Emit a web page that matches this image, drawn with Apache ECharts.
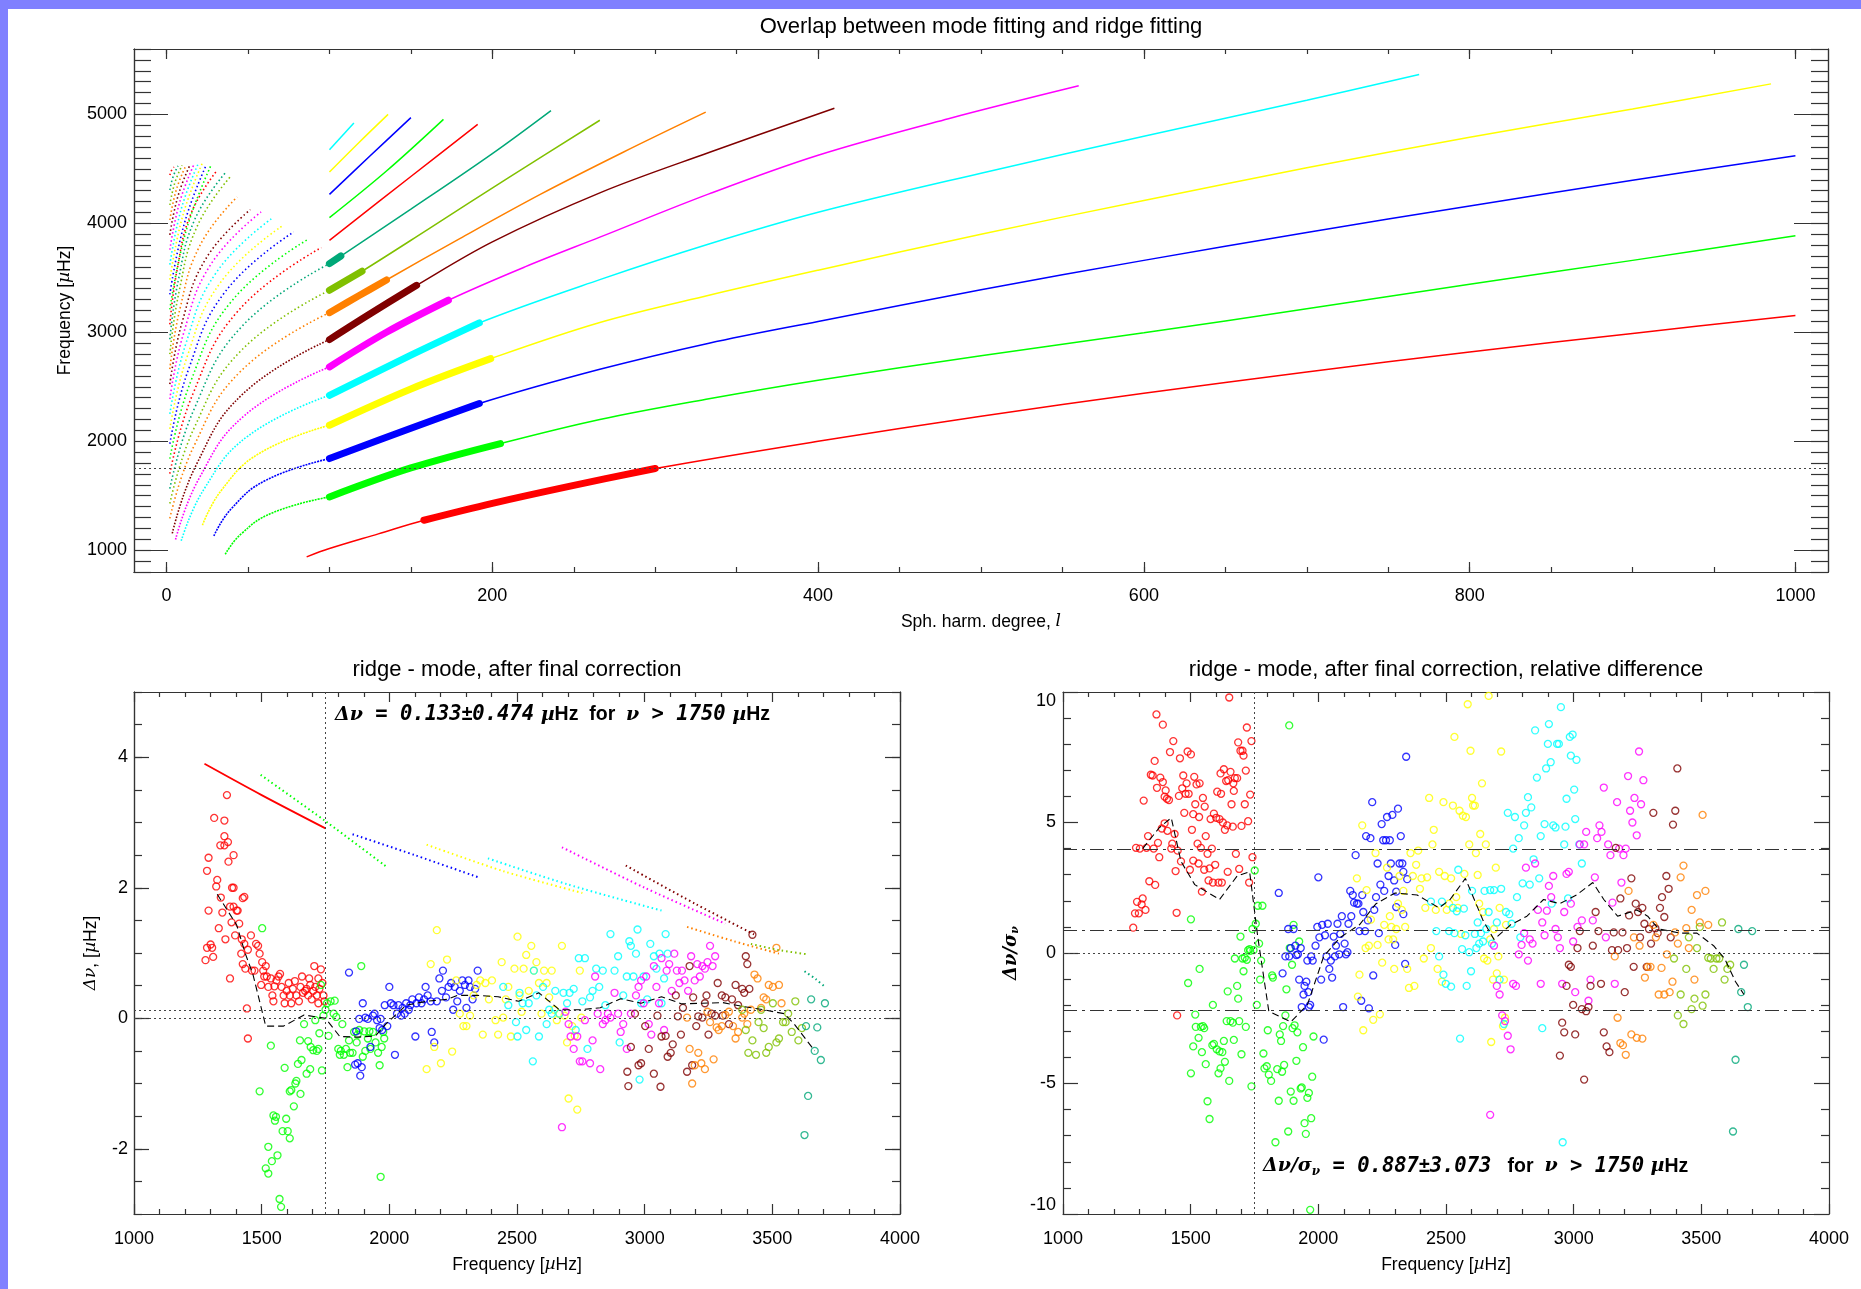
<!DOCTYPE html>
<html>
<head>
<meta charset="utf-8">
<title>Overlap between mode fitting and ridge fitting</title>
<script src="https://cdn.jsdelivr.net/npm/echarts@6/dist/echarts.min.js"></script>
<style>
  html, body { margin: 0; padding: 0; background: #fff; }
  #chart { width: 1861px; height: 1289px; }
</style>
</head>
<body>
<div id="chart"></div>
<script>
// ridge colours, n = 0 (f mode) .. cycling every 10
const ridgeColors = ['#ff0000', '#00ff00', '#0000ff', '#ffff00', '#00ffff', '#ff00ff', '#800000', '#ff8000', '#80c000', '#00a878']

// ---- top panel: ridges in (l, frequency) ----
// low degree part, index 0 -> n = 1
const ridgeLow = [
  [[36, 963], [45.6, 1147], [64.8, 1342], [100, 1489]],
  [[29, 1131], [39.7, 1380], [61, 1642], [100, 1841]],
  [[22, 1230], [33.7, 1551], [57.1, 1890], [100, 2147]],
  [[9, 1086], [22.7, 1554], [50, 2048], [100, 2422]],
  [[5.5, 1098], [19.7, 1652], [48, 2238], [100, 2682]],
  [[3.5, 1155], [18, 1777], [46.9, 2435], [100, 2933]],
  [[2, 1292], [16.7, 1953], [46.1, 2651], [100, 3180]],
  [[2, 1429], [16.7, 2114], [46.1, 2837], [100, 3385]],
  [[2, 1566], [16.7, 2288], [46.1, 3052], [100, 3630]],
  [[2, 1703], [16, 2429], [43.9, 3196], [95, 3777]],
  [[2, 1840], [14.7, 2544], [40, 3287], [86.5, 3850]],
  [[2, 1977], [13.4, 2657], [36.2, 3376], [78, 3920]],
  [[2, 2114], [12.4, 2766], [33, 3455], [71, 3976]],
  [[2, 2251], [11.5, 2880], [30.4, 3546], [65, 4049]],
  [[2, 2388], [10.4, 2989], [27.2, 3624], [58, 4104]],
  [[2, 2525], [9.4, 3085], [24.2, 3677], [51.4, 4125]],
  [[2, 2662], [8.2, 3215], [20.6, 3800], [43.3, 4242]],
  [[2, 2799], [7.6, 3368], [18.7, 3970], [39, 4425]],
  [[2, 2936], [7.1, 3470], [17.3, 4035], [36, 4462]],
  [[2, 3073], [6.4, 3568], [15, 4090], [31, 4486]],
  [[2, 3210], [12, 3932], [27, 4523]],
  [[2, 3347], [11, 4003], [24.5, 4540]],
  [[2, 3484], [10, 4073], [22, 4554]],
  [[2, 3621], [9, 4132], [19.5, 4550]],
  [[2, 3758], [8, 4192], [17, 4547]],
  [[2, 3895], [7, 4250], [14.5, 4540]],
  [[2, 4032], [6, 4309], [12, 4535]],
  [[2, 4169], [5, 4369], [9.5, 4532]],
  [[2, 4306], [4, 4428], [7, 4527]],
  [[2, 4443], [3, 4484], [4.5, 4517]]
]
// ridge fitting, index = n
const ridgeHigh = [
  [[86, 939], [100, 1015], [130, 1150], [158, 1275], [200, 1430], [250, 1595], [300, 1750], [400, 2000], [500, 2230], [600, 2440], [700, 2635], [800, 2820], [900, 2990], [1000, 3154]],
  [[100, 1489], [150, 1755], [205, 1979], [266, 2200], [333, 2390], [400, 2560], [500, 2785], [600, 2995], [700, 3215], [800, 3440], [900, 3660], [1000, 3885]],
  [[100, 1841], [150, 2120], [192, 2346], [266, 2660], [333, 2900], [400, 3100], [500, 3390], [600, 3660], [700, 3915], [800, 4160], [900, 4395], [1000, 4620]],
  [[100, 2147], [150, 2480], [199, 2758], [266, 3090], [333, 3340], [400, 3570], [500, 3900], [600, 4210], [700, 4510], [800, 4790], [900, 5050], [985, 5280]],
  [[100, 2422], [150, 2790], [192, 3086], [266, 3483], [333, 3810], [400, 4101], [500, 4460], [600, 4800], [700, 5130], [769, 5365]],
  [[100, 2682], [135, 3000], [173, 3294], [220, 3600], [266, 3873], [333, 4270], [400, 4625], [480, 4960], [560, 5262]],
  [[100, 2933], [125, 3170], [153.5, 3431], [200, 3830], [266, 4280], [333, 4650], [410, 5056]],
  [[100, 3180], [118, 3335], [135, 3480], [180, 3860], [230, 4270], [280, 4650], [331, 5020]],
  [[100, 3385], [120, 3560], [160, 3940], [210, 4420], [266, 4946]],
  [[100, 3630], [107, 3700], [150, 4130], [200, 4640], [236, 5035]],
  [[100, 3844], [150, 4430], [191, 4908]],
  [[100, 4052], [135, 4480], [170, 4954]],
  [[100, 4266], [125, 4620], [150, 4970]],
  [[100, 4471], [118, 4740], [136, 5000]],
  [[100, 4676], [115, 4920]]
]
// overlap with mode fitting, index = n
const ridgeThick = [
  [[158, 1275], [200, 1430], [250, 1595], [300, 1750]],
  [[100, 1489], [150, 1755], [205, 1979]],
  [[100, 1841], [150, 2120], [192, 2346]],
  [[100, 2147], [150, 2480], [199, 2758]],
  [[100, 2422], [150, 2790], [192, 3086]],
  [[100, 2682], [135, 3000], [173, 3294]],
  [[100, 2933], [125, 3170], [153.5, 3431]],
  [[100, 3180], [118, 3335], [135, 3480]],
  [[100, 3385], [120, 3560]],
  [[100, 3630], [107, 3700]]
]
const cutFrequency = 1750
const topTicksMajorX = [0, 200, 400, 600, 800, 1000]
const topTicksMinorX = [0, 50, 100, 150, 200, 250, 300, 350, 400, 450, 500, 550, 600, 650, 700, 750, 800, 850, 900, 950, 1000]
const topTicksMajorY = [1000, 2000, 3000, 4000, 5000]
const leftTicksMajorY = [-2, 0, 2, 4]

// ---- bottom left: ridge - mode (muHz) ----
const leftRed = [[1280, 0.89], [1286, 2.26], [1292, 2.46], [1292, 1.65], [1286, 1.08], [1300, 1.13], [1306, 1.08], [1314, 3.07], [1310, 0.94], [1322, 2.02], [1326, 2.12], [1332, 1.38], [1338, 2.65], [1340, 1.85], [1346, 1.62], [1354, 2.65], [1354, 2.79], [1354, 3.03], [1358, 1.21], [1364, 3.42], [1368, 2.70], [1370, 2.40], [1376, 1.71], [1376, 0.61], [1384, 2.00], [1390, 2.00], [1390, 2.50], [1382, 1.47], [1390, 1.71], [1402, 1.65], [1396, 1.27], [1406, 1.65], [1412, 1.45], [1420, 0.99], [1426, 1.84], [1432, 1.86], [1426, 0.83], [1436, 0.76], [1442, 0.15], [1446, -0.31], [1422, 1.21], [1432, 1.14], [1446, 1.05], [1458, 1.27], [1462, 0.73], [1472, 0.73], [1478, 1.14], [1486, 1.11], [1492, 0.99], [1502, 0.86], [1498, 0.51], [1506, 0.73], [1510, 0.64], [1516, 0.80], [1520, 0.64], [1526, 0.48], [1536, 0.61], [1542, 0.35], [1546, 0.26], [1550, 0.49], [1558, 0.58], [1566, 0.64], [1572, 0.68], [1578, 0.48], [1586, 0.35], [1590, 0.23], [1598, 0.42], [1606, 0.54], [1610, 0.35], [1616, 0.23], [1622, 0.45], [1630, 0.57], [1636, 0.35], [1646, 0.26], [1652, 0.48], [1658, 0.64], [1662, 0.39], [1670, 0.42], [1676, 0.45], [1682, 0.35], [1690, 0.51], [1696, 0.29], [1702, 0.42], [1706, 0.80], [1710, 0.48], [1716, 0.35], [1722, 0.23], [1726, 0.45], [1732, 0.75], [1738, 0.54], [1742, 0.35], [1746, 0.26], [1722, 0.61], [1686, 0.61]]
const leftGreen = [[1502, 1.38], [1492, -1.12], [1536, -0.42], [1546, -1.49], [1552, -1.57], [1556, -1.51], [1526, -1.97], [1516, -2.30], [1526, -2.38], [1540, -2.19], [1562, -2.10], [1570, -2.77], [1576, -2.89], [1582, -1.73], [1596, -1.54], [1602, -1.73], [1610, -1.84], [1590, -0.76], [1610, -1.12], [1616, -1.10], [1626, -1.35], [1632, -1.00], [1636, -0.96], [1642, -0.70], [1650, -0.34], [1656, -0.64], [1652, -1.16], [1666, -0.09], [1676, -0.85], [1682, -0.35], [1690, -0.78], [1692, -0.44], [1702, -0.49], [1710, -0.03], [1716, -0.50], [1722, -0.47], [1726, -0.23], [1732, 0.51], [1736, -0.80], [1742, 0.04], [1750, 0.13], [1756, 0.23], [1762, -0.27], [1770, 0.26], [1782, 0.07], [1786, 0.27], [1792, 0.02], [1800, -0.47], [1806, -0.56], [1810, -0.50], [1816, -0.09], [1822, -0.56], [1830, -0.47], [1836, -0.75], [1842, -0.34], [1846, -0.53], [1856, -0.53], [1862, -0.21], [1872, -0.37], [1876, -0.25], [1882, -0.18], [1890, 0.80], [1896, -0.59], [1902, -0.20], [1906, -0.50], [1916, -0.31], [1922, -0.20], [1926, -0.47], [1936, -0.21], [1946, -0.37], [1956, -0.53], [1962, -0.72], [1966, -2.43], [1970, -0.44], [1976, -0.21], [1980, -0.31]]
const leftBlue = [[1842, 0.70], [1866, -0.71], [1876, -0.69], [1886, -0.88], [1892, -0.75], [1870, -0.20], [1882, -0.01], [1896, 0.23], [1906, 0.01], [1916, -0.01], [1926, -0.44], [1936, 0.04], [1942, 0.07], [1952, -0.03], [1962, -0.15], [1966, -0.01], [1972, -0.18], [1982, 0.20], [1992, -0.12], [2000, 0.48], [2006, 0.23], [2016, 0.20], [2022, -0.56], [2030, 0.07], [2036, 0.20], [2046, 0.04], [2052, 0.16], [2060, 0.07], [2066, 0.23], [2076, 0.13], [2082, 0.20], [2090, 0.29], [2102, -0.28], [2106, 0.23], [2116, 0.32], [2126, 0.23], [2136, 0.29], [2142, 0.48], [2150, 0.35], [2162, 0.26], [2166, -0.21], [2176, -0.37], [2186, 0.26], [2196, 0.61], [2206, 0.42], [2210, 0.73], [2222, 0.32], [2232, 0.48], [2242, 0.54], [2250, 0.13], [2256, 0.48], [2266, 0.26], [2276, 0.42], [2286, 0.58], [2296, 0.51], [2302, 0.16], [2310, 0.58], [2316, 0.48], [2326, 0.29], [2336, 0.45], [2346, 0.73]]
const leftYellow = [[2162, 0.83], [2186, 1.35], [2146, -0.78], [2176, -0.44], [2202, -0.69], [2226, 0.90], [2246, -0.51], [2262, 0.58], [2276, 0.07], [2290, -0.12], [2302, -0.12], [2316, 0.04], [2330, 0.35], [2342, 0.51], [2356, 0.58], [2366, -0.25], [2376, 0.54], [2390, 0.29], [2402, 0.58], [2416, -0.03], [2426, -0.25], [2440, 0.86], [2446, 0.01], [2456, 0.29], [2466, 0.48], [2476, -0.28], [2490, 0.76], [2502, 1.25], [2510, 0.35], [2518, 0.10], [2526, 0.76], [2536, 0.97], [2546, 0.42], [2556, 1.11], [2566, 0.73], [2576, 0.86], [2586, 0.54], [2596, 0.07], [2606, 0.73], [2616, 0.54], [2626, 0.32], [2636, 0.73], [2646, 0.13], [2656, -0.03], [2666, 0.07], [2676, 1.11], [2686, 0.04], [2696, -0.37], [2702, -1.23], [2716, -0.12], [2726, -0.27], [2736, -1.40], [2746, 0.73], [2752, 0.01]]
const leftCyan = [[2446, 0.48], [2466, 0.20], [2496, -0.06], [2502, -0.28], [2510, 0.39], [2522, 0.23], [2536, -0.18], [2546, 0.23], [2562, -0.66], [2566, 0.73], [2576, 0.35], [2586, -0.28], [2602, 0.48], [2616, -0.09], [2626, 0.13], [2636, 0.07], [2650, 0.42], [2666, 0.07], [2682, 0.39], [2696, 0.23], [2706, 0.39], [2722, 0.45], [2730, -0.18], [2742, 0.92], [2756, 0.26], [2766, 0.92], [2776, -0.47], [2786, 0.32], [2796, 0.42], [2810, 0.76], [2822, 0.48], [2836, 0.73], [2846, 0.20], [2866, 1.29], [2882, 0.73], [2896, 0.95], [2902, -0.37], [2916, 0.35], [2930, 0.64], [2940, 1.18], [2946, 1.11], [2956, 0.64], [2966, 0.99], [2972, 1.36], [2980, -0.94], [2986, 0.23], [2996, 0.64], [3010, 0.29], [3022, 1.14], [3036, 0.95], [3046, 0.76], [3058, 0.99], [3066, 0.23], [3076, 0.61], [3082, 1.29], [3090, 0.99]]
const leftMagenta = [[2676, -1.67], [2690, 0.10], [2702, -0.09], [2710, -0.28], [2722, -0.47], [2736, -0.28], [2746, -0.66], [2756, -0.66], [2766, -0.03], [2786, -0.69], [2796, -0.34], [2806, 0.64], [2816, 0.07], [2826, -0.78], [2836, -0.09], [2846, -0.03], [2856, 0.07], [2866, 0.01], [2882, 0.39], [2896, 0.07], [2906, -0.21], [2916, -0.09], [2930, -0.47], [2946, 0.07], [2966, 0.35], [2976, 0.48], [2986, 0.58], [2996, 0.23], [3006, 0.64], [3016, -0.09], [3026, -0.25], [3036, 0.80], [3046, 0.48], [3056, 0.23], [3066, 0.92], [3076, -0.18], [3086, 0.73], [3096, 0.83], [3106, 0.42], [3116, 0.99], [3126, 0.73], [3136, 0.54], [3146, 0.73], [3156, 0.58], [3170, 0.42], [3182, 0.95], [3196, 0.58], [3206, 0.83], [3216, 0.64], [3226, 0.80], [3236, 0.76], [3246, 0.86], [3256, 1.11], [3266, 0.80], [3276, 0.95]]
const leftBrown = [[2936, -1.04], [2932, -0.82], [2946, -0.44], [2962, 0.07], [2976, -0.72], [2986, -0.69], [3002, -0.12], [3016, -0.47], [3036, -0.85], [3050, 0.04], [3062, -1.05], [3066, -0.28], [3082, -0.27], [3090, -0.59], [3102, -0.53], [3110, -0.40], [3122, 0.35], [3130, 0.03], [3142, -0.25], [3150, 0.16], [3166, -0.82], [3176, 0.80], [3186, -0.72], [3190, 0.32], [3202, -0.12], [3210, 0.03], [3226, 0.01], [3236, 0.23], [3242, 0.35], [3250, -0.25], [3262, 0.07], [3276, 0.04], [3286, 0.54], [3302, 0.35], [3306, 0.04], [3316, 0.32], [3330, -0.09], [3342, 0.29], [3356, 0.51], [3366, 0.20], [3382, 0.45], [3390, 0.39], [3396, 0.95], [3402, 0.83], [3410, 0.45], [3422, 1.28]]
const leftOrange = [[3166, 0.01], [3176, -0.47], [3186, -1.00], [3196, -0.72], [3210, -0.53], [3222, -0.69], [3236, -0.78], [3246, 0.10], [3256, -0.06], [3270, -0.63], [3282, -0.14], [3290, -0.18], [3302, -0.12], [3316, 0.05], [3330, 0.10], [3346, -0.12], [3356, -0.31], [3366, -0.21], [3382, 0.01], [3390, 0.07], [3402, -0.09], [3416, 0.13], [3430, 0.67], [3442, 0.61], [3456, 0.16], [3466, 0.32], [3476, 0.29], [3486, 0.51], [3502, 0.48], [3516, 1.08], [3526, 0.51], [3536, 0.23]]
const leftOlive = [[3382, 0.13], [3396, -0.18], [3406, -0.53], [3422, -0.34], [3436, -0.56], [3446, -0.06], [3456, 0.13], [3466, -0.15], [3476, -0.53], [3486, -0.44], [3502, 0.23], [3516, -0.37], [3526, -0.31], [3542, -0.06], [3552, -0.06], [3562, 0.07], [3576, -0.21], [3590, 0.26], [3602, -0.34], [3616, -0.15]]
const leftTeal = [[3626, -1.79], [3632, -0.12], [3640, -1.19], [3652, 0.29], [3666, -0.50], [3676, -0.14], [3690, -0.64], [3706, 0.23]]
// mode fitting values shown as small dots
const leftBands = [
  [[1276, 3.90], [1500, 3.42], [1750, 2.91]],
  [[1496, 3.73], [1750, 3.02], [1986, 2.33]],
  [[1856, 2.82], [2100, 2.50], [2356, 2.15]],
  [[2146, 2.66], [2450, 2.25], [2756, 1.92]],
  [[2386, 2.45], [2700, 2.05], [3066, 1.65]],
  [[2676, 2.62], [3000, 2.00], [3316, 1.45]],
  [[2926, 2.34], [3200, 1.75], [3436, 1.27]],
  [[3166, 1.40], [3350, 1.18], [3526, 0.99]],
  [[3416, 1.14], [3520, 1.05], [3636, 0.98]],
  [[3626, 0.72], [3670, 0.60], [3706, 0.48]]
]
const leftMean = [[1326, 1.90], [1402, 1.43], [1436, 0.99], [1466, 0.67], [1516, -0.12], [1586, -0.12], [1666, 0.05], [1750, 0.0], [1806, -0.28], [1876, -0.29], [1946, -0.27], [1986, -0.09], [2066, 0.20], [2146, 0.26], [2226, 0.29], [2266, 0.35], [2346, 0.35], [2426, 0.33], [2506, 0.26], [2586, 0.39], [2666, 0.13], [2746, 0.13], [2826, 0.16], [2906, 0.30], [2986, 0.23], [3066, 0.33], [3146, 0.22], [3226, 0.23], [3306, 0.24], [3386, 0.18], [3466, 0.13], [3546, 0.07], [3586, -0.09], [3666, -0.50]]
const leftStats = { mean: 0.133, sigma: 0.474 }

// ---- bottom right: relative difference ----
const rightRed = [[1275, 0.97], [1282, 1.52], [1286, 4.03], [1290, 1.96], [1297, 1.52], [1301, 4.0], [1308, 1.86], [1312, 2.09], [1316, 5.84], [1323, 1.65], [1327, 4.03], [1333, 4.48], [1338, 2.75], [1344, 6.83], [1351, 6.80], [1355, 4.0], [1361, 2.61], [1359, 7.36], [1366, 9.14], [1368, 6.33], [1372, 4.22], [1381, 6.72], [1387, 4.77], [1391, 6.55], [1391, 8.75], [1398, 5.99], [1402, 6.23], [1407, 5.91], [1409, 4.68], [1415, 5.86], [1419, 7.70], [1424, 4.0], [1428, 4.19], [1432, 8.12], [1437, 4.56], [1441, 3.14], [1445, 1.54], [1449, 3.92], [1454, 6.02], [1458, 7.46], [1462, 3.51], [1467, 6.31], [1471, 6.80], [1475, 5.37], [1480, 6.10], [1484, 6.50], [1488, 7.72], [1492, 6.10], [1497, 3.19], [1501, 7.61], [1505, 4.72], [1510, 3.54], [1514, 6.75], [1518, 5.70], [1523, 6.46], [1527, 4.19], [1531, 3.43], [1535, 6.50], [1540, 4.03], [1544, 2.35], [1548, 5.94], [1555, 5.61], [1559, 4.48], [1566, 3.80], [1570, 2.78], [1574, 3.24], [1578, 5.13], [1583, 4.00], [1587, 2.70], [1591, 5.34], [1596, 3.38], [1600, 5.18], [1604, 6.18], [1609, 2.70], [1613, 5.13], [1617, 6.88], [1622, 2.70], [1626, 5.00], [1630, 7.04], [1634, 4.72], [1639, 6.59], [1643, 4.89], [1647, 6.62], [1651, 9.79], [1656, 6.94], [1660, 5.70], [1665, 4.84], [1669, 6.21], [1673, 6.70], [1677, 3.80], [1682, 6.70], [1686, 8.07], [1690, 3.22], [1695, 7.75], [1699, 4.87], [1703, 7.75], [1707, 7.56], [1712, 5.70], [1716, 6.99], [1720, 8.64], [1725, 5.05], [1729, 2.70], [1733, 6.07], [1738, 8.12], [1742, 3.67], [1619, 6.10], [1645, 3.11], [1667, 6.50], [1553, 3.19], [1398, 4.97], [1377, 3.67], [1510, 5.32], [1533, 5.21], [1447, -2.39]]
const rightGreen = [[1501, 1.29], [1490, -1.15], [1518, -2.36], [1520, -2.83], [1535, -0.61], [1531, -3.25], [1540, -2.83], [1548, -2.80], [1553, -2.88], [1544, -3.80], [1510, -3.58], [1501, -4.61], [1559, -4.26], [1566, -5.68], [1574, -6.36], [1585, -3.53], [1591, -3.48], [1602, -3.69], [1609, -4.61], [1613, -3.77], [1617, -4.42], [1624, -3.80], [1630, -3.37], [1587, -1.99], [1634, -4.17], [1641, -2.61], [1645, -1.47], [1651, -4.90], [1656, -2.61], [1665, -2.67], [1669, -3.33], [1673, -0.21], [1682, -1.26], [1686, -1.75], [1690, -2.61], [1695, 0.63], [1699, -3.88], [1703, -0.21], [1707, -0.70], [1712, -0.18], [1716, -2.83], [1720, -0.26], [1725, 0.11], [1731, 0.15], [1733, 0.08], [1738, -5.11], [1742, 0.92], [1746, 0.11], [1751, 3.16], [1755, 1.12], [1759, -1.99], [1763, 1.81], [1768, 0.36], [1772, -1.02], [1776, -0.29], [1781, 1.81], [1785, -3.85], [1789, -4.42], [1798, -4.34], [1802, -2.96], [1806, -4.66], [1815, -4.90], [1819, -0.86], [1822, -0.94], [1832, -7.25], [1839, -4.45], [1845, -5.66], [1849, -3.12], [1854, -3.37], [1858, -4.55], [1862, -2.80], [1866, -4.29], [1871, -2.39], [1875, -1.39], [1882, -6.84], [1886, 8.72], [1888, 0.19], [1892, -5.31], [1899, -2.88], [1903, -5.66], [1907, -2.77], [1914, -4.13], [1918, -3.04], [1925, 0.44], [1931, -5.19], [1935, -5.15], [1940, -3.61], [1946, -6.52], [1951, -6.93], [1957, -5.55], [1963, -5.36], [1968, -9.84], [1972, -6.33], [1976, -4.74], [1981, -3.20], [1897, -0.45], [1903, 1.08]]
const rightBlue = [[1845, 2.30], [1860, -0.78], [1871, -0.13], [1882, 0.92], [1886, -0.13], [1892, 0.19], [1903, 0.92], [1910, 0.28], [1914, -0.08], [1920, -0.05], [1925, -1.02], [1931, 0.19], [1935, -2.07], [1942, -1.59], [1946, -1.26], [1953, -1.10], [1957, -0.29], [1961, -1.50], [1963, -2.07], [1968, -1.99], [1972, -0.13], [1978, -0.29], [1989, 0.28], [1996, 1.00], [2000, 2.90], [2004, 0.60], [2011, -1.02], [2015, 1.08], [2021, -3.32], [2026, 0.68], [2032, -0.13], [2037, 1.12], [2043, -0.61], [2049, -0.29], [2054, -0.94], [2060, 0.63], [2065, -0.13], [2069, 0.28], [2075, 1.12], [2082, -0.05], [2086, 0.73], [2092, 1.41], [2097, -2.07], [2103, 0.36], [2108, -0.05], [2114, 0.03], [2118, 1.12], [2125, 2.38], [2129, 1.41], [2135, 2.22], [2140, 1.93], [2146, 3.75], [2151, 1.89], [2157, 1.89], [2161, 0.84], [2168, -1.83], [2172, 2.22], [2176, 1.57], [2183, 0.84], [2187, 4.48], [2194, 1.25], [2198, -2.12], [2204, 4.40], [2211, 5.78], [2215, -0.86], [2219, 1.65], [2226, 2.14], [2232, 3.43], [2237, 0.76], [2243, 2.62], [2248, 4.94], [2254, 4.32], [2258, 2.38], [2265, 4.32], [2269, 5.21], [2275, 2.95], [2280, 4.32], [2284, 3.43], [2290, 5.29], [2297, 2.78], [2301, 0.31], [2305, 1.76], [2312, 5.53], [2318, 3.43], [2323, 4.48], [2329, 3.43], [2333, 3.11], [2340, -0.42], [2344, 7.52], [2348, 2.83], [2333, 1.49], [2305, 2.35]]
const rightYellow = [[2151, 2.86], [2155, -1.67], [2161, -0.83], [2172, 4.89], [2176, -2.96], [2185, 0.19], [2189, 2.41], [2198, 0.28], [2206, 1.28], [2215, -2.56], [2224, 3.83], [2232, 0.31], [2241, -2.35], [2250, -0.37], [2258, 1.08], [2269, 3.27], [2275, 0.52], [2280, 1.41], [2286, 1.00], [2293, 0.52], [2297, -0.61], [2305, 0.92], [2312, 1.89], [2318, 2.95], [2327, 1.65], [2333, 2.38], [2340, 1.00], [2348, -0.61], [2355, -1.34], [2361, 3.83], [2370, 2.95], [2376, -1.26], [2383, 3.38], [2391, 3.92], [2398, 2.46], [2404, 2.86], [2413, -0.21], [2419, 1.73], [2426, 2.90], [2434, 5.94], [2441, 0.19], [2447, 4.16], [2452, 4.72], [2460, 1.65], [2467, -0.61], [2473, 3.11], [2484, -1.10], [2490, 5.78], [2495, 2.95], [2503, 1.65], [2512, 1.89], [2520, 2.86], [2527, 5.65], [2533, 8.28], [2540, 2.14], [2546, 1.73], [2553, 5.45], [2559, 0.73], [2566, 5.26], [2572, 3.03], [2578, 5.21], [2585, 9.53], [2591, 4.16], [2596, 7.75], [2602, 5.94], [2606, 5.65], [2613, 5.65], [2617, 3.83], [2624, 2.99], [2630, 1.89], [2634, 4.56], [2641, 6.50], [2645, 1.57], [2649, -0.21], [2656, 4.16], [2662, -0.29], [2667, 9.85], [2673, 0.52], [2677, -3.41], [2684, -1.02], [2688, 0.92], [2695, 3.27], [2699, -0.78], [2705, -0.13], [2710, 1.73], [2716, 7.72], [2723, -2.80], [2727, -1.02], [2731, -2.48], [2735, 1.08]]
const rightCyan = [[2441, 1.97], [2462, 0.84], [2473, -0.13], [2484, 1.97], [2490, -0.83], [2499, -1.18], [2512, 0.84], [2520, -1.29], [2527, 1.73], [2533, 0.76], [2542, 1.60], [2548, 3.19], [2555, -3.28], [2563, 0.15], [2570, 1.70], [2576, 0.68], [2581, -1.26], [2591, 0.03], [2598, -0.70], [2602, 2.38], [2613, 0.73], [2619, 0.19], [2624, 1.17], [2630, 0.36], [2637, 0.76], [2645, 0.44], [2651, 2.38], [2658, 0.92], [2667, 1.57], [2673, 2.41], [2680, 0.36], [2688, 2.41], [2699, 1.17], [2710, -1.02], [2716, 2.46], [2727, -2.72], [2735, 1.57], [2742, 5.37], [2748, 1.49], [2757, 1.12], [2763, 4.00], [2770, 5.21], [2778, 2.14], [2785, 4.40], [2791, 0.60], [2800, 2.67], [2806, 4.89], [2813, 5.37], [2821, 5.97], [2828, 2.62], [2834, 5.58], [2843, 3.59], [2849, 8.53], [2856, 6.72], [2865, 2.86], [2871, 4.48], [2877, -2.88], [2886, 4.94], [2892, 7.07], [2899, 8.01], [2903, 8.77], [2910, 7.31], [2914, 1.89], [2920, 4.89], [2929, 4.81], [2935, 8.01], [2942, 8.01], [2950, 9.42], [2957, -7.25], [2963, 4.16], [2968, 4.84], [2972, 5.91], [2978, 2.09], [2985, 8.28], [2989, 7.56], [2996, 8.37], [3002, 6.26], [3006, 5.13], [3011, 7.40], [3022, 4.16], [3032, 3.43]]
const rightMagenta = [[2673, -6.20], [2688, 0.28], [2699, -1.26], [2710, -1.59], [2720, -2.39], [2731, -2.61], [2742, -3.17], [2753, -3.69], [2763, -1.18], [2774, -1.26], [2785, -0.05], [2796, 0.31], [2806, 0.76], [2813, 3.27], [2821, -0.29], [2828, 0.52], [2839, 0.36], [2849, 3.43], [2860, 1.65], [2871, -1.18], [2877, 1.17], [2886, 0.68], [2895, 1.62], [2903, 2.57], [2912, 2.14], [2920, 2.95], [2929, 0.92], [2938, 0.60], [2946, 0.19], [2955, -1.18], [2963, 1.57], [2972, 3.03], [2981, 3.11], [2989, 1.89], [2998, 0.44], [3006, -1.50], [3015, 1.00], [3024, 4.16], [3032, 1.25], [3041, 4.16], [3049, 4.64], [3058, -1.83], [3066, -1.02], [3075, 1.25], [3083, 2.90], [3092, 4.40], [3101, 4.89], [3109, 4.64], [3118, 6.34], [3126, 0.60], [3135, 4.16], [3144, 3.75], [3152, 1.93], [3161, -1.18], [3170, 5.78], [3178, 4.00], [3187, 2.70], [3195, 3.75], [3204, 4.00], [3213, 6.78], [3221, 5.45], [3230, 5.00], [3238, 5.94], [3247, 4.51], [3256, 7.72], [3264, 5.70], [3273, 6.62]]
const rightBrown = [[2946, -3.93], [2955, -2.67], [2963, -3.04], [2972, -1.26], [2981, -0.45], [2989, -0.53], [2998, -1.99], [3006, -3.12], [3015, 0.19], [3024, 0.84], [3032, -2.15], [3041, -4.85], [3049, -2.23], [3058, -2.07], [3066, -1.26], [3075, 0.28], [3086, 1.57], [3097, 0.84], [3107, -1.18], [3118, -3.04], [3129, -3.58], [3140, -3.80], [3150, 0.11], [3157, 0.79], [3165, 4.03], [3174, 0.11], [3183, 2.09], [3191, 0.79], [3200, -1.50], [3209, 0.19], [3217, 1.44], [3226, 2.86], [3235, -0.53], [3243, 1.89], [3252, 1.57], [3260, 0.60], [3269, 1.73], [3277, 1.12], [3286, -0.53], [3295, 0.92], [3303, 0.36], [3312, 5.37], [3320, 0.95], [3329, 0.76], [3338, 1.73], [3346, 2.14], [3355, 1.38], [3363, 2.95], [3372, 2.46], [3380, 0.60], [3389, 4.92], [3398, 5.45], [3406, 7.07]]
const rightOrange = [[3161, -0.13], [3172, -2.48], [3183, -3.45], [3193, -3.53], [3204, -3.90], [3215, 2.38], [3226, -3.12], [3236, 0.60], [3247, -3.25], [3258, 0.28], [3269, -3.28], [3279, -0.94], [3290, -0.53], [3301, -0.53], [3312, 1.08], [3322, 0.60], [3333, -1.59], [3344, -0.57], [3355, -1.59], [3365, -0.05], [3376, -1.50], [3387, -1.10], [3397, 0.79], [3408, 0.36], [3419, 2.90], [3430, 3.35], [3441, 0.95], [3451, 0.19], [3462, 1.65], [3473, -1.02], [3483, 2.22], [3494, 1.17], [3505, 5.29], [3516, 2.38], [3527, 1.08]]
const rightOlive = [[3393, -0.21], [3408, -2.39], [3419, -1.59], [3430, -2.72], [3441, -0.61], [3451, 0.60], [3462, -2.15], [3473, -1.75], [3483, 0.19], [3494, 1.00], [3505, -2.02], [3516, -1.59], [3527, -0.18], [3537, -0.21], [3548, -0.61], [3559, -0.21], [3570, -0.21], [3581, 1.17], [3591, -1.02], [3602, -0.61], [3613, -0.45]]
const rightTeal = [[3624, -6.84], [3634, -4.09], [3645, 0.92], [3656, -1.50], [3667, -0.45], [3682, -2.07], [3699, 0.84]]
const rightMean = [[1312, 4.0], [1377, 4.8], [1424, 5.18], [1462, 3.51], [1516, 2.62], [1613, 2.05], [1682, 2.95], [1731, 3.11], [1763, 0.60], [1806, -2.23], [1892, -2.64], [1957, -1.99], [2021, -0.13], [2086, 0.60], [2161, 1.08], [2226, 1.89], [2301, 2.30], [2387, 2.22], [2473, 1.73], [2516, 2.05], [2576, 2.86], [2645, 1.25], [2688, 0.52], [2753, 1.08], [2817, 1.41], [2882, 2.05], [2946, 1.89], [3011, 2.22], [3075, 2.70], [3118, 2.05], [3172, 1.41], [3247, 1.65], [3290, 1.41], [3333, 0.92], [3419, 0.76], [3483, 0.76], [3548, 0.28], [3591, -0.21], [3634, -1.10], [3667, -1.59]]
const rightStats = { mean: 0.887, sigma: 3.073 }

const leftSets = [leftRed, leftGreen, leftBlue, leftYellow, leftCyan, leftMagenta, leftBrown, leftOrange, leftOlive, leftTeal]
const rightSets = [rightRed, rightGreen, rightBlue, rightYellow, rightCyan, rightMagenta, rightBrown, rightOrange, rightOlive, rightTeal]

const FONT = 'Liberation Sans, Arial, Helvetica, sans-serif'
const AXIS_COLOR = '#333'
const chart = echarts.init(document.getElementById('chart'))

function frame (o) {
  const base = {
    type: 'value',
    axisLine: { show: true, onZero: false, lineStyle: { color: AXIS_COLOR, width: 1.2 } },
    axisTick: { show: false },
    axisLabel: { show: false },
    splitLine: { show: false }
  }
  return Object.assign(base, o)
}
function ticks (len, extra) {
  return Object.assign({ show: true, inside: true, length: len, lineStyle: { color: AXIS_COLOR, width: 1.2 } }, extra || {})
}
const plain = v => String(v)
const tickLabel = { show: true, color: '#000', fontFamily: FONT, fontSize: 18, formatter: plain }
const nameStyle = {
  color: '#000', fontFamily: FONT, fontSize: 17.5,
  rich: {
    i: { fontFamily: 'DejaVu Serif', fontStyle: 'italic', fontSize: 17, color: '#000' },
    bi: { fontFamily: 'DejaVu Serif', fontStyle: 'italic', fontWeight: 'bold', fontSize: 18, color: '#000' },
    sub: { fontFamily: 'DejaVu Serif', fontStyle: 'italic', fontWeight: 'bold', fontSize: 11, color: '#000', padding: [8, 0, 0, 0] },
    n: { fontFamily: FONT, fontSize: 17.5, color: '#000' }
  }
}
const minor = (len) => ({ show: true, splitNumber: 5, length: len, lineStyle: { color: AXIS_COLOR, width: 1.2 } })

const xAxis = [
  // top panel
  frame({ gridIndex: 0, min: -20, max: 1020, position: 'bottom',
    axisTick: ticks(10, { customValues: topTicksMajorX }),
    axisLabel: Object.assign({}, tickLabel, { customValues: topTicksMajorX, margin: 15 }),
    name: '{n|Sph. harm. degree, }{i|l}', nameLocation: 'middle', nameGap: 41, nameTextStyle: nameStyle }),
  frame({ gridIndex: 0, min: -20, max: 1020, position: 'bottom', axisTick: ticks(5, { customValues: topTicksMinorX }) }),
  frame({ gridIndex: 0, min: -20, max: 1020, position: 'top', axisTick: ticks(10, { customValues: topTicksMajorX }) }),
  frame({ gridIndex: 0, min: -20, max: 1020, position: 'top', axisTick: ticks(5, { customValues: topTicksMinorX }) }),
  // bottom left
  frame({ gridIndex: 1, min: 1000, max: 4000, interval: 500, position: 'bottom',
    axisTick: ticks(10), minorTick: minor(5),
    axisLabel: Object.assign({}, tickLabel, { margin: 16 }),
    name: '{n|Frequency [}{i|µ}{n|Hz]}', nameLocation: 'middle', nameGap: 42, nameTextStyle: nameStyle }),
  frame({ gridIndex: 1, min: 1000, max: 4000, interval: 500, position: 'top', axisTick: ticks(10), minorTick: minor(5) }),
  // bottom right
  frame({ gridIndex: 2, min: 1000, max: 4000, interval: 500, position: 'bottom',
    axisTick: ticks(10), minorTick: minor(5),
    axisLabel: Object.assign({}, tickLabel, { margin: 16 }),
    name: '{n|Frequency [}{i|µ}{n|Hz]}', nameLocation: 'middle', nameGap: 42, nameTextStyle: nameStyle }),
  frame({ gridIndex: 2, min: 1000, max: 4000, interval: 500, position: 'top', axisTick: ticks(10), minorTick: minor(5) })
]

const yAxis = [
  // top panel
  frame({ gridIndex: 0, min: 800, max: 5600, position: 'left',
    axisTick: ticks(34, { customValues: topTicksMajorY }),
    axisLabel: Object.assign({}, tickLabel, { customValues: topTicksMajorY, margin: 7 }),
    name: '{n|Frequency [}{i|µ}{n|Hz]}', nameLocation: 'middle', nameGap: 60, nameRotate: 90, nameTextStyle: nameStyle }),
  frame({ gridIndex: 0, min: 800, max: 5600, interval: 100, position: 'left', axisTick: ticks(17) }),
  frame({ gridIndex: 0, min: 800, max: 5600, position: 'right', axisTick: ticks(34, { customValues: topTicksMajorY }) }),
  frame({ gridIndex: 0, min: 800, max: 5600, interval: 100, position: 'right', axisTick: ticks(17) }),
  // bottom left
  frame({ gridIndex: 1, min: -3, max: 5, position: 'left',
    axisTick: ticks(15, { customValues: leftTicksMajorY }),
    axisLabel: Object.assign({}, tickLabel, { customValues: leftTicksMajorY, margin: 6 }),
    name: '{i|Δν}{n|, [}{i|µ}{n|Hz]}', nameLocation: 'middle', nameGap: 34, nameRotate: 90, nameTextStyle: nameStyle }),
  frame({ gridIndex: 1, min: -3, max: 5, interval: 0.5, position: 'left', axisTick: ticks(8) }),
  frame({ gridIndex: 1, min: -3, max: 5, position: 'right', axisTick: ticks(15, { customValues: leftTicksMajorY }) }),
  frame({ gridIndex: 1, min: -3, max: 5, interval: 0.5, position: 'right', axisTick: ticks(8) }),
  // bottom right
  frame({ gridIndex: 2, min: -10, max: 10, interval: 5, position: 'left',
    axisTick: ticks(15), minorTick: minor(8),
    axisLabel: Object.assign({}, tickLabel, { margin: 7, verticalAlignMaxLabel: 'top', verticalAlignMinLabel: 'bottom' }),
    name: '{bi|Δν/σ}{sub|ν}', nameLocation: 'middle', nameGap: 42, nameRotate: 90, nameTextStyle: nameStyle }),
  frame({ gridIndex: 2, min: -10, max: 10, interval: 5, position: 'right', axisTick: ticks(15), minorTick: minor(8) })
]

const series = []
const dotted = { color: '#444', width: 1, type: [2, 3] }
const dashDot = { color: '#333', width: 1.2, type: [14, 5, 3, 5] }

// top panel: low degree ridges as dotted tracks
ridgeLow.forEach((pts, i) => {
  const n = i + 1
  series.push({
    type: 'line', xAxisIndex: 0, yAxisIndex: 0, data: pts, smooth: 0.45, showSymbol: false, silent: true,
    lineStyle: { color: ridgeColors[n % 10], width: 1.6, type: n <= 3 ? [2, 1] : (n <= 6 ? [1.6, 1.6] : [1.5, 2.6]) }
  })
})
ridgeHigh.forEach((pts, n) => {
  series.push({
    type: 'line', xAxisIndex: 0, yAxisIndex: 0, data: pts, smooth: 0.35, showSymbol: false, silent: true,
    lineStyle: { color: ridgeColors[n % 10], width: 1.5 }
  })
})
ridgeThick.forEach((pts, n) => {
  series.push({
    type: 'line', xAxisIndex: 0, yAxisIndex: 0, data: pts, smooth: 0.35, showSymbol: false, silent: true,
    lineStyle: { color: ridgeColors[n % 10], width: 7, cap: 'round', join: 'round' }
  })
})
series[0].markLine = { silent: true, symbol: ['none', 'none'], label: { show: false }, lineStyle: dotted, data: [{ yAxis: cutFrequency }] }

// bottom left
leftBands.forEach((pts, n) => {
  series.push({
    type: 'line', xAxisIndex: 4, yAxisIndex: 4, data: pts, smooth: 0.3, showSymbol: false, silent: true,
    lineStyle: { color: ridgeColors[n], width: n === 0 ? 1.8 : 2, type: n === 0 ? 'solid' : [1.5, 3] }
  })
})
leftSets.forEach((pts, n) => {
  series.push({
    type: 'scatter', xAxisIndex: 4, yAxisIndex: 4, data: pts, symbol: 'circle', symbolSize: 7, silent: true,
    itemStyle: { color: 'rgba(0,0,0,0)', borderColor: ridgeColors[n], borderWidth: 1.3 }
  })
})
series.push({
  type: 'line', xAxisIndex: 4, yAxisIndex: 4, data: leftMean, showSymbol: false, silent: true,
  lineStyle: { color: '#000', width: 1.1, type: [7, 4] },
  markLine: { silent: true, symbol: ['none', 'none'], label: { show: false }, lineStyle: dotted,
    data: [{ yAxis: 0 }, { yAxis: leftStats.mean }, { xAxis: cutFrequency }] }
})

// bottom right
rightSets.forEach((pts, n) => {
  series.push({
    type: 'scatter', xAxisIndex: 6, yAxisIndex: 8, data: pts, symbol: 'circle', symbolSize: 7, silent: true,
    itemStyle: { color: 'rgba(0,0,0,0)', borderColor: ridgeColors[n], borderWidth: 1.3 }
  })
})
series.push({
  type: 'line', xAxisIndex: 6, yAxisIndex: 8, data: rightMean, showSymbol: false, silent: true,
  lineStyle: { color: '#000', width: 1.1, type: [7, 4] },
  markLine: { silent: true, symbol: ['none', 'none'], label: { show: false }, lineStyle: dotted,
    data: [{ yAxis: 0 }, { xAxis: cutFrequency }] }
})
series.push({
  type: 'line', xAxisIndex: 6, yAxisIndex: 8, data: [], showSymbol: false, silent: true,
  markLine: { silent: true, symbol: ['none', 'none'], label: { show: false }, lineStyle: dashDot,
    data: [{ yAxis: rightStats.mean }, { yAxis: rightStats.mean + rightStats.sigma }, { yAxis: rightStats.mean - rightStats.sigma }] }
})

const annoRich = {
  g: { fontFamily: 'DejaVu Serif', fontStyle: 'italic', fontSize: 19, color: '#000' },
  m: { fontFamily: 'DejaVu Sans Mono', fontStyle: 'italic', fontWeight: 'bold', fontSize: 20.5, color: '#000' },
  s: { fontFamily: FONT, fontSize: 19.5, color: '#000' },
  sub: { fontFamily: 'DejaVu Serif', fontStyle: 'italic', fontSize: 12, color: '#000', padding: [11, 0, 0, 0] }
}
const titleStyle = { color: '#000', fontFamily: FONT, fontSize: 22, fontWeight: 'normal' }

const option = {
  animation: false,
  backgroundColor: '#fff',
  grid: [
    { left: 134, top: 49, width: 1694, height: 523 },
    { left: 134, top: 692, width: 766, height: 522 },
    { left: 1063, top: 692, width: 766, height: 522 }
  ],
  title: [
    { text: 'Overlap between mode fitting and ridge fitting', left: 981, top: 16, textAlign: 'center', padding: 0, textStyle: titleStyle },
    { text: 'ridge - mode, after final correction', left: 517, top: 659, textAlign: 'center', padding: 0, textStyle: titleStyle },
    { text: 'ridge - mode, after final correction, relative difference', left: 1446, top: 659, textAlign: 'center', padding: 0, textStyle: titleStyle },
    { text: '{g|Δν}{m| = ' + leftStats.mean.toFixed(3) + '}{s|±}{m|' + leftStats.sigma.toFixed(3) + '}{g| µ}{s|Hz  for  }{g|ν}{m| > ' + cutFrequency + '}{g| µ}{s|Hz}',
      left: 335, top: 705, padding: 0, textStyle: { rich: annoRich } },
    { text: '{g|Δν/σ}{sub|ν}{m| = ' + rightStats.mean.toFixed(3) + '}{s|±}{m|' + rightStats.sigma.toFixed(3) + '}{s|   for  }{g|ν}{m| > ' + cutFrequency + '}{g| µ}{s|Hz}',
      left: 1263, top: 1155, padding: 0, textStyle: { rich: annoRich } }
  ],
  graphic: [
    { type: 'rect', left: 0, top: 0, shape: { width: 1861, height: 9 }, style: { fill: '#8080ff' }, silent: true },
    { type: 'rect', left: 0, top: 0, shape: { width: 8, height: 1289 }, style: { fill: '#8080ff' }, silent: true }
  ],
  xAxis: xAxis,
  yAxis: yAxis,
  series: series
}
chart.setOption(option)
</script>
</body>
</html>
